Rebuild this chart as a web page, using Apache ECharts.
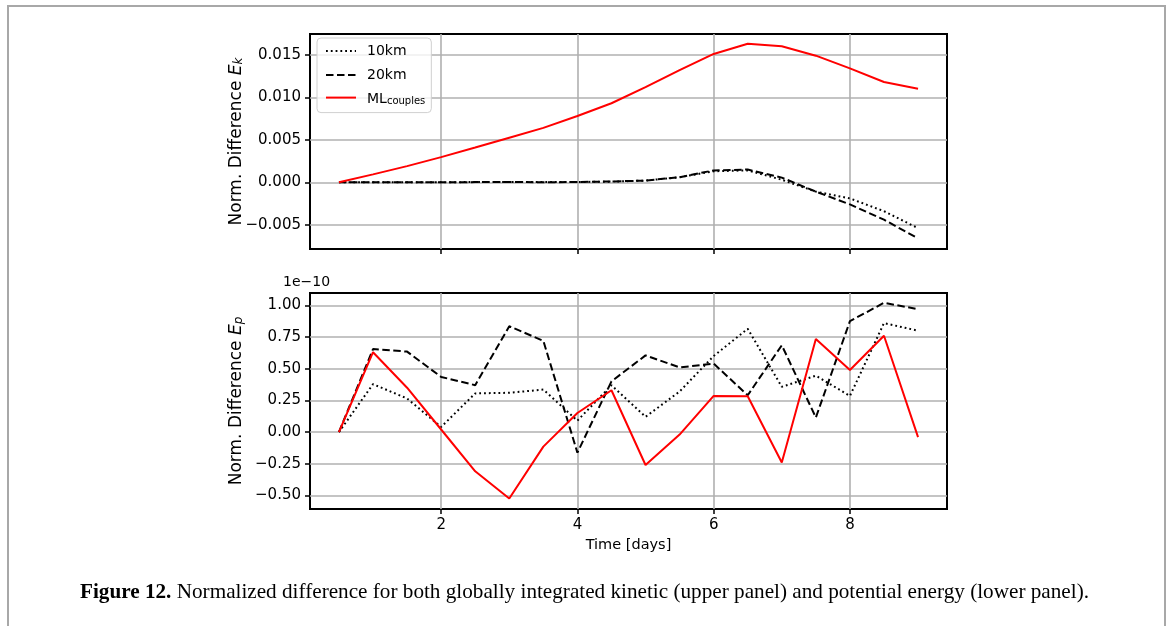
<!DOCTYPE html>
<html>
<head>
<meta charset="utf-8">
<script src="https://cdn.jsdelivr.net/npm/echarts@6/dist/echarts.min.js"></script>
<style>
html,body{margin:0;padding:0;background:#fff;}
#chart{width:1168px;height:626px;}
</style>
</head>
<body>
<div id="chart"></div>
<script>
// ---- data ----
var days = [0.5, 1, 1.5, 2, 2.5, 3, 3.5, 4, 4.5, 5, 5.5, 6, 6.5, 7, 7.5, 8, 8.5, 9];
// kinetic energy normalized difference
var ek10km = [0, 0, 0, 0, 0.00003, 0.00003, 0.00002, 0.00003, 0.00008, 0.0002, 0.0006, 0.0013, 0.0014, 0.0003, -0.0011, -0.0019, -0.0034, -0.0054];
var ek20km = [0, 0, 0, 0, 0.00002, 0.00004, 0.00001, 0.00003, 0.0001, 0.0002, 0.0006, 0.0014, 0.0015, 0.00055, -0.0011, -0.0026, -0.0044, -0.0066];
var ekML = [0, 0.00093, 0.0019, 0.00296, 0.0041, 0.00525, 0.0064, 0.0078, 0.0093, 0.0112, 0.0132, 0.0151, 0.0163, 0.0160, 0.0149, 0.0134, 0.0118, 0.0110];
// potential energy normalized difference (units of 1e-10)
var ep10km = [0, 0.378, 0.265, 0.04, 0.305, 0.31, 0.335, 0.09, 0.37, 0.12, 0.32, 0.6, 0.815, 0.357, 0.445, 0.285, 0.86, 0.80];
var ep20km = [0, 0.655, 0.635, 0.435, 0.37, 0.835, 0.72, -0.163, 0.40, 0.605, 0.51, 0.54, 0.29, 0.685, 0.115, 0.875, 1.02, 0.97];
var epML = [0, 0.63, 0.35, 0.02, -0.31, -0.525, -0.115, 0.15, 0.33, -0.26, -0.02, 0.285, 0.283, -0.24, 0.735, 0.49, 0.76, -0.04];
// ticks
var xTicks = [2, 4, 6, 8];
var ekTicks = [-0.005, 0, 0.005, 0.01, 0.015];
var epTicks = [-0.5, -0.25, 0, 0.25, 0.5, 0.75, 1.0];
var seriesNames = ['10km', '20km', 'MLcouples'];
var offsetText = '1e\u221210';
var caption = 'Normalized difference for both globally integrated kinetic (upper panel) and potential energy (lower panel).';

function pairs(xs, ys) { return xs.map(function (x, i) { return [x, ys[i]]; }); }
function minus(s) { return s.replace('-', '\u2212'); }

var chart = echarts.init(document.getElementById('chart'));
var FONT = 'DejaVu Sans';
var gridLine = { show: true, lineStyle: { color: '#b0b0b0', width: 1.6 } };
var tick = { show: true, inside: false, length: 5, lineStyle: { color: '#000', width: 1.5 } };

function xAxis(idx, showLabels) {
  return {
    type: 'value', gridIndex: idx, min: 0.075, max: 9.425, position: 'bottom',
    axisLine: { show: false, onZero: false },
    axisTick: Object.assign({ customValues: xTicks }, tick),
    splitLine: gridLine,
    axisLabel: { show: showLabels, customValues: xTicks, margin: 9, color: '#000', fontFamily: FONT, fontSize: 15, formatter: function (v) { return String(v); } },
    name: showLabels ? 'Time [days]' : '', nameLocation: 'middle', nameGap: 29, nameMoveOverlap: false,
    nameTextStyle: { color: '#000', fontFamily: FONT, fontSize: 14.5 }
  };
}
function yAxis(idx, mn, mx, ticks, dec, sub) {
  return {
    type: 'value', gridIndex: idx, min: mn, max: mx, position: 'left',
    axisLine: { show: false, onZero: false },
    axisTick: Object.assign({ customValues: ticks }, tick),
    splitLine: gridLine,
    axisLabel: { customValues: ticks, margin: 9, color: '#000', fontFamily: FONT, fontSize: 15,
      formatter: function (v) { return minus(v.toFixed(dec)); } },
    name: '{a|Norm. Difference }{e|E}{s|' + sub + '}', nameLocation: 'middle', nameGap: 65, nameRotate: 90,
    nameMoveOverlap: false,
    nameTextStyle: { color: '#000', fontFamily: FONT, fontSize: 17,
      rich: {
        a: { fontFamily: FONT, fontSize: 17, color: '#000', verticalAlign: 'bottom', lineHeight: 21 },
        e: { fontFamily: FONT, fontStyle: 'italic', fontSize: 17, color: '#000', verticalAlign: 'bottom', lineHeight: 21 },
        s: { fontFamily: FONT, fontStyle: 'italic', fontSize: 12, color: '#000', verticalAlign: 'bottom', lineHeight: 16 }
      } }
  };
}
function line(name, data, xi, color, type) {
  return {
    name: name, type: 'line', xAxisIndex: xi, yAxisIndex: xi, data: data,
    symbol: 'none', showSymbol: false, animation: false, clip: true,
    lineStyle: { color: color, width: 2, type: type }, itemStyle: { color: color }
  };
}
var dotted = [1.8, 3];
var dashed = [7.5, 3.5];

chart.setOption({
  animation: false,
  backgroundColor: '#fff',
  grid: [
    { left: 310, width: 637, top: 34, height: 215, show: true, borderColor: '#000', borderWidth: 2, backgroundColor: 'transparent' },
    { left: 310, width: 637, top: 293, height: 216, show: true, borderColor: '#000', borderWidth: 2, backgroundColor: 'transparent' }
  ],
  xAxis: [xAxis(0, false), xAxis(1, true)],
  yAxis: [
    yAxis(0, -0.00785, 0.01745, ekTicks, 3, 'k'),
    yAxis(1, -0.6075, 1.0975, epTicks, 2, 'p')
  ],
  legend: {
    data: seriesNames, orient: 'vertical', left: 317, top: 38,
    padding: [6, 6, 6, 8], itemGap: 10, itemWidth: 30, itemHeight: 14,
    backgroundColor: 'rgba(255,255,255,0.8)', borderColor: '#d0d0d0', borderWidth: 1, borderRadius: 4,
    itemStyle: { opacity: 0, borderWidth: 0 },
    textStyle: { fontFamily: FONT, fontSize: 14, color: '#000', padding: [0, 0, 0, 6],
      rich: { m: { fontFamily: FONT, fontSize: 14, color: '#000', verticalAlign: 'bottom', lineHeight: 18 },
              s: { fontFamily: FONT, fontSize: 10, color: '#000', verticalAlign: 'bottom', lineHeight: 14 } } },
    formatter: function (n) { return n === 'MLcouples' ? '{m|ML}{s|couples}' : n; }
  },
  series: [
    line(seriesNames[0], pairs(days, ek10km), 0, '#000', dotted),
    line(seriesNames[1], pairs(days, ek20km), 0, '#000', dashed),
    line(seriesNames[2], pairs(days, ekML), 0, '#ff0000', 'solid'),
    line(seriesNames[0], pairs(days, ep10km), 1, '#000', dotted),
    line(seriesNames[1], pairs(days, ep20km), 1, '#000', dashed),
    line(seriesNames[2], pairs(days, epML), 1, '#ff0000', 'solid')
  ],
  graphic: [
    { type: 'rect', shape: { x: 8, y: 6, width: 1157, height: 640 }, style: { fill: 'none', stroke: '#a8a8a8', lineWidth: 2 }, silent: true },
    { type: 'text', left: 283, top: 275, style: { text: offsetText, fontFamily: FONT, fontSize: 14, fill: '#000' } },
    { type: 'text', left: 80, top: 582, style: {
        text: '{b|Figure 12.}{r| ' + caption + '}',
        rich: { b: { fontFamily: 'Liberation Serif', fontWeight: 'bold', fontSize: 21.2, fill: '#000' },
                r: { fontFamily: 'Liberation Serif', fontSize: 21.2, fill: '#000' } } } }
  ]
});
</script>
</body>
</html>
